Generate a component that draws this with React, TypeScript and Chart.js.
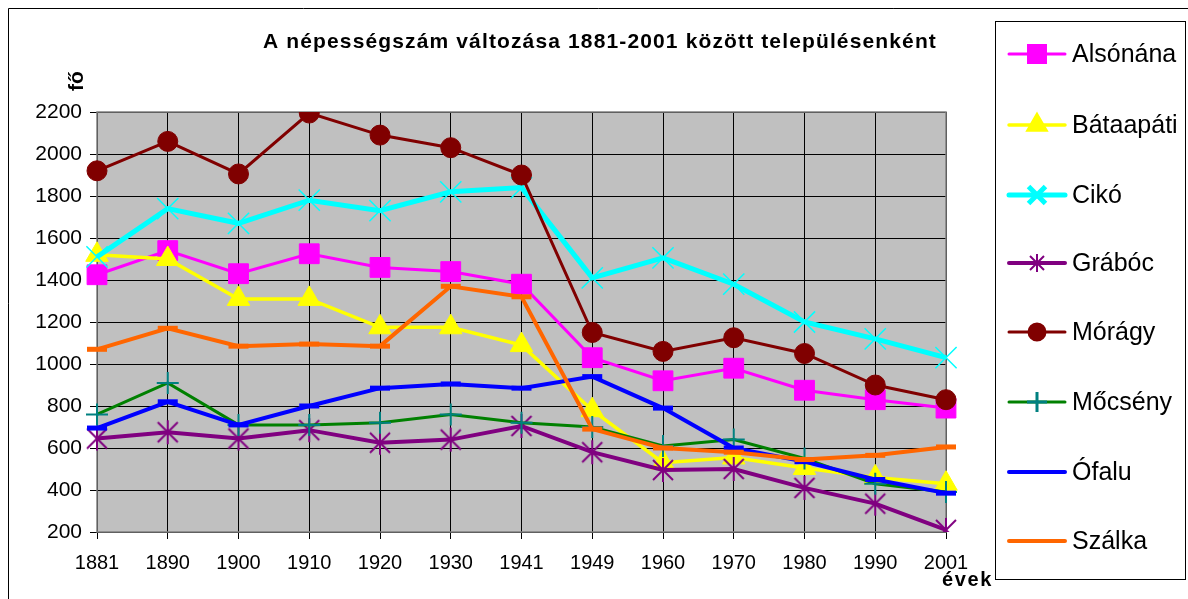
import React, { useEffect, useRef } from 'react';
import { Chart, registerables } from 'chart.js';
import { drawPoint } from 'chart.js/helpers';

Chart.register(...registerables);

const years = ['1881', '1890', '1900', '1910', '1920', '1930', '1941', '1949', '1960', '1970', '1980', '1990', '2001'];
const yTicks = [200, 400, 600, 800, 1000, 1200, 1400, 1600, 1800, 2000, 2200];

const alsonana = [1425, 1540, 1430, 1525, 1460, 1440, 1380, 1030, 920, 980, 875, 830, 790];
const bataapati = [1520, 1500, 1310, 1310, 1175, 1175, 1090, 780, 530, 555, 505, 460, 430];
const ciko = [1510, 1740, 1670, 1780, 1730, 1820, 1840, 1410, 1505, 1380, 1200, 1120, 1030];
const graboc = [645, 675, 645, 685, 625, 640, 705, 580, 495, 500, 410, 335, 210];
const moragy = [1920, 2060, 1905, 2195, 2090, 2030, 1900, 1150, 1060, 1125, 1050, 900, 830];
const mocseny = [760, 910, 710, 710, 720, 760, 720, 700, 610, 640, 550, 430, 390];
const ofalu = [695, 820, 710, 800, 885, 905, 885, 940, 790, 600, 535, 450, 385];
const szalka = [1070, 1170, 1085, 1095, 1085, 1370, 1320, 690, 600, 580, 545, 565, 605];

const titleText = 'A népességszám változása 1881-2001 között településenként';
const yAxisTitle = 'fő';
const xAxisTitle = 'évek';

const FONT = 'Arial, "Liberation Sans", sans-serif';

function makeAsterisk(color: string, size: number): HTMLCanvasElement {
  const c = document.createElement('canvas');
  c.width = size;
  c.height = size;
  const g = c.getContext('2d')!;
  g.strokeStyle = color;
  g.lineWidth = 2;
  const m = size / 2;
  const d = size / 2 - 3;
  g.beginPath();
  g.moveTo(m - d, m - d); g.lineTo(m + d, m + d);
  g.moveTo(m + d, m - d); g.lineTo(m - d, m + d);
  g.moveTo(m, 1); g.lineTo(m, size - 1);
  g.stroke();
  return c;
}

function fitText(ctx: CanvasRenderingContext2D, text: string, x: number, y: number, width: number) {
  (ctx as any).letterSpacing = '0px';
  const w = ctx.measureText(text).width;
  const n = Array.from(text).length;
  const sp = (width - w) / n;
  (ctx as any).letterSpacing = sp + 'px';
  ctx.textAlign = 'left';
  ctx.fillText(text, x, y);
  (ctx as any).letterSpacing = '0px';
}

export default function App() {
  const ref = useRef<HTMLCanvasElement>(null);

  useEffect(() => {
    const canvas = ref.current!;
    const ast = makeAsterisk('#800080', 26);
    const astSmall = makeAsterisk('#800080', 20);

    const spec = [
      { label: 'Alsónána', data: alsonana, color: '#FF00FF', width: 3, style: 'rect', r: 14, pb: 1, pc: '#FF00FF', lr: 12 },
      { label: 'Bátaapáti', data: bataapati, color: '#FFFF00', width: 3.5, style: 'triangle', r: 13, pb: 1, pc: '#FFFF00', lr: 10 },
      { label: 'Cikó', data: ciko, color: '#00FFFF', width: 5, style: 'crossRot', r: 15, pb: 1.5, pc: '#00FFFF', lr: 12 },
      { label: 'Grábóc', data: graboc, color: '#800080', width: 4, style: 'ast', r: 12, pb: 2, pc: '#800080', lr: 10 },
      { label: 'Mórágy', data: moragy, color: '#800000', width: 3, style: 'circle', r: 10, pb: 1, pc: '#800000', lr: 8 },
      { label: 'Mőcsény', data: mocseny, color: '#008000', width: 3, style: 'cross', r: 11, pb: 2, pc: '#008080', lr: 10 },
      { label: 'Ófalu', data: ofalu, color: '#0000FF', width: 4, style: 'line', r: 10, pb: 5, pc: '#0000FF', lr: 8 },
      { label: 'Szálka', data: szalka, color: '#FF6600', width: 4, style: 'line', r: 10, pb: 5, pc: '#FF6600', lr: 8 },
    ];

    const datasets = spec.map((s, i) => ({
      label: s.label,
      data: s.data,
      borderColor: s.color,
      borderWidth: s.width,
      backgroundColor: s.pc,
      pointStyle: s.style === 'ast' ? ast : s.style,
      pointRadius: s.r,
      pointHoverRadius: s.r,
      pointBorderColor: s.pc,
      pointBackgroundColor: s.pc,
      pointBorderWidth: s.pb,
      tension: 0,
      fill: false,
      order: -i,
    }));

    const decor = {
      id: 'decor',
      beforeDraw(chart: any) {
        const { ctx, chartArea: a } = chart;
        ctx.save();
        ctx.fillStyle = '#ffffff';
        ctx.fillRect(0, 0, chart.width, chart.height);
        ctx.fillStyle = '#C0C0C0';
        ctx.fillRect(a.left, a.top, a.right - a.left, a.bottom - a.top);
        ctx.strokeStyle = '#000000';
        ctx.lineWidth = 1;
        ctx.beginPath();
        ctx.moveTo(8.5, chart.height);
        ctx.lineTo(8.5, 8.5);
        ctx.lineTo(chart.width, 8.5);
        ctx.stroke();
        ctx.restore();
      },
      beforeDatasetsDraw(chart: any) {
        const { ctx, chartArea: a } = chart;
        ctx.save();
        ctx.strokeStyle = '#808080';
        ctx.lineWidth = 1.5;
        ctx.strokeRect(a.left, a.top, a.right - a.left, a.bottom - a.top);
        ctx.restore();
      },
      afterDraw(chart: any) {
        const { ctx } = chart;
        ctx.save();
        ctx.fillStyle = '#000000';
        ctx.textBaseline = 'middle';
        ctx.font = 'bold 21px ' + FONT;
        fitText(ctx, titleText, 263, 42, 674);
        ctx.font = 'bold 20px ' + FONT;
        fitText(ctx, xAxisTitle, 942, 580, 51);
        ctx.save();
        ctx.translate(77, 81);
        ctx.rotate(-Math.PI / 2);
        ctx.font = 'bold 21px ' + FONT;
        ctx.textAlign = 'center';
        ctx.fillText(yAxisTitle, 0, 0);
        ctx.restore();

        ctx.strokeStyle = '#000000';
        ctx.lineWidth = 1;
        ctx.strokeRect(995.5, 21.5, 190, 558);
        const ys = [54, 125, 195, 263, 332, 402, 472, 541];
        chart.data.datasets.forEach((ds: any, i: number) => {
          const s = spec[i];
          const y = ys[i];
          ctx.strokeStyle = s.color;
          ctx.lineWidth = s.width;
          ctx.lineCap = 'round';
          ctx.beginPath();
          ctx.moveTo(1009, y);
          ctx.lineTo(1065, y);
          ctx.stroke();
          ctx.lineCap = 'butt';
          ctx.strokeStyle = s.pc;
          ctx.fillStyle = s.pc;
          drawPoint(ctx, {
            pointStyle: s.style === 'ast' ? astSmall : s.style,
            radius: s.lr,
            rotation: 0,
            borderWidth: s.pb,
          } as any, 1037, y);
          ctx.fillStyle = '#000000';
          ctx.font = '25px ' + FONT;
          ctx.textAlign = 'left';
          ctx.textBaseline = 'middle';
          ctx.fillText(ds.label, 1072, y + 1);
        });
        ctx.restore();
      },
    };

    const chart = new Chart(canvas, {
      type: 'line',
      data: { labels: years, datasets: datasets as any },
      options: {
        responsive: false,
        animation: false,
        events: [],
        layout: { padding: { left: 0, top: 112, right: 242, bottom: 0 } },
        plugins: {
          legend: { display: false },
          title: { display: false },
          tooltip: { enabled: false },
        },
        scales: {
          x: {
            type: 'category',
            offset: false,
            grid: { color: '#000000', lineWidth: 1, tickLength: 7, tickColor: '#000000' },
            border: { display: false },
            ticks: {
              color: '#000000',
              font: { family: FONT, size: 20 },
              padding: 12,
              maxRotation: 0,
              autoSkip: false,
            },
            afterFit(scale: any) { scale.height = 67; },
          },
          y: {
            min: 200,
            max: 2200,
            afterBuildTicks(scale: any) { scale.ticks = yTicks.map((v) => ({ value: v })); },
            grid: { color: '#000000', lineWidth: 1, tickLength: 7, tickColor: '#000000' },
            border: { display: false },
            ticks: {
              color: '#000000',
              font: { family: FONT, size: 21 },
              padding: 8,
              callback: (v: any) => String(v),
            },
            afterFit(scale: any) { scale.width = 97; },
          },
        },
      },
      plugins: [decor],
    });
    return () => chart.destroy();
  }, []);

  return (
    <div style={{ position: 'fixed', left: 0, top: 0, width: 1188, height: 599, background: '#fff' }}>
      <canvas ref={ref} width={1188} height={599} style={{ display: 'block' }} />
    </div>
  );
}
